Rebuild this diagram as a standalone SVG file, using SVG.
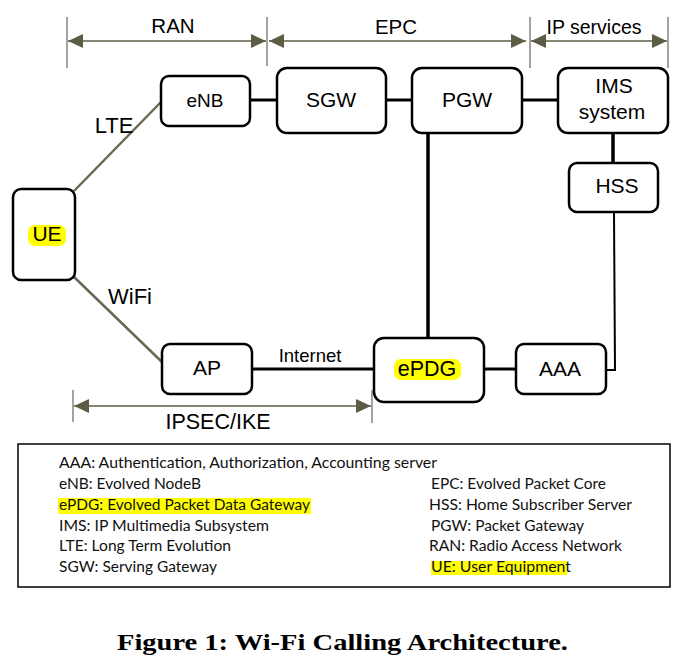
<svg xmlns="http://www.w3.org/2000/svg" width="682" height="663" viewBox="0 0 682 663">
<style>
.box{fill:#fff;stroke:#000;stroke-width:2.5}
.lbl{font-family:"Liberation Sans",Arial,sans-serif;font-size:21px;fill:#000;text-anchor:middle}
.dim{font-family:"Liberation Sans",Arial,sans-serif;font-size:20.5px;fill:#000;text-anchor:middle}
.tick{stroke:#a3a3a3;stroke-width:2}
.darr{stroke:#5f5c46;stroke-width:1.5;fill:none}
.conn{stroke:#000;stroke-width:3;fill:none}
.thin{stroke:#000;stroke-width:2;fill:none}
.radio{stroke:#6b6854;stroke-width:2.5;fill:none}
.hl{fill:#ffff00}
.leg{font-family:Lato,"Liberation Sans",sans-serif;font-size:15.5px;fill:#111}
</style>
<defs>
<marker id="ah" viewBox="0 0 15 14" refX="15" refY="7" markerWidth="15" markerHeight="14" markerUnits="userSpaceOnUse" orient="auto-start-reverse">
<path d="M0,0 L15,7 L0,14 z" fill="#5f5c46"/>
</marker>
</defs>
<rect width="682" height="663" fill="#fff"/>

<g id="dimensions">
<line class="tick" x1="67" y1="17" x2="67" y2="68"/>
<line class="tick" x1="267" y1="17" x2="267" y2="66"/>
<line class="tick" x1="530" y1="17" x2="530" y2="68"/>
<line class="tick" x1="668" y1="17" x2="668" y2="68"/>
<line class="darr" x1="68" y1="41" x2="266" y2="41" marker-start="url(#ah)" marker-end="url(#ah)"/>
<line class="darr" x1="269" y1="41" x2="526" y2="41" marker-start="url(#ah)" marker-end="url(#ah)"/>
<line class="darr" x1="531" y1="41" x2="667" y2="41" marker-start="url(#ah)" marker-end="url(#ah)"/>
<text class="dim" x="173" y="33">RAN</text>
<text class="dim" x="396" y="34">EPC</text>
<text class="dim" x="594" y="34" style="font-size:19.5px">IP services</text>
<line class="tick" x1="73" y1="390" x2="73" y2="422"/>
<line class="tick" x1="372" y1="390" x2="372" y2="423"/>
<line class="darr" x1="74" y1="406" x2="371" y2="406" marker-start="url(#ah)" marker-end="url(#ah)"/>
<text class="lbl" x="218" y="429" style="font-size:21.5px">IPSEC/IKE</text>
</g>

<g id="connectors">
<line class="radio" x1="74" y1="191" x2="161" y2="102"/>
<line class="radio" x1="74" y1="277" x2="162" y2="362"/>
<line class="conn" x1="250" y1="100" x2="277" y2="100"/>
<line class="conn" x1="386" y1="100" x2="412" y2="100"/>
<line class="conn" x1="522" y1="100" x2="558" y2="100"/>
<line class="conn" x1="428" y1="133" x2="428" y2="338" style="stroke-width:3.5"/>
<line class="conn" x1="613" y1="133" x2="613" y2="163" style="stroke-width:3.5"/>
<polyline class="thin" points="614,212 615,370 606,370"/>
<line class="conn" x1="252" y1="369" x2="374" y2="369"/>
<line class="conn" x1="484" y1="369" x2="516" y2="369"/>
<text class="lbl" x="114" y="133" style="font-size:22px">LTE</text>
<text class="lbl" x="130" y="304" style="font-size:22px">WiFi</text>
<text class="lbl" x="310" y="362" style="font-size:18.5px">Internet</text>
</g>

<g id="UE">
<rect class="box" x="13" y="189" width="62" height="91" rx="8"/>
<rect class="hl" x="28" y="225" width="38" height="21" rx="7"/>
<text class="lbl" x="47" y="241">UE</text>
</g>
<g id="eNB">
<rect class="box" x="161" y="76" width="89" height="50" rx="8"/>
<text class="lbl" x="205" y="107" style="font-size:19px">eNB</text>
</g>
<g id="SGW">
<rect class="box" x="277" y="68" width="109" height="65" rx="10"/>
<text class="lbl" x="331" y="107">SGW</text>
</g>
<g id="PGW">
<rect class="box" x="412" y="68" width="110" height="65" rx="10"/>
<text class="lbl" x="467" y="107">PGW</text>
</g>
<g id="IMS">
<rect class="box" x="558" y="68" width="110" height="65" rx="10"/>
<text class="lbl" x="614" y="93">IMS</text>
<text class="lbl" x="612" y="119">system</text>
</g>
<g id="HSS">
<rect class="box" x="569" y="163" width="89" height="49" rx="8"/>
<text class="lbl" x="617" y="193">HSS</text>
</g>
<g id="AP">
<rect class="box" x="162" y="344" width="90" height="50" rx="8"/>
<text class="lbl" x="207" y="375">AP</text>
</g>
<g id="ePDG">
<rect class="box" x="374" y="338" width="110" height="64" rx="10"/>
<rect class="hl" x="394" y="359" width="67" height="21" rx="7"/>
<text class="lbl" x="427" y="376" style="font-size:21.5px">ePDG</text>
</g>
<g id="AAA">
<rect class="box" x="516" y="344" width="90" height="50" rx="8"/>
<text class="lbl" x="560" y="376">AAA</text>
</g>

<g id="legend">
<rect x="18" y="444" width="652" height="143" fill="#fff" stroke="#000" stroke-width="1.5"/>
<rect class="hl" x="58" y="498" width="253" height="16"/>
<rect class="hl" x="431" y="561" width="136" height="14"/>
<text class="leg" x="59" y="468" textLength="378" lengthAdjust="spacingAndGlyphs">AAA: Authentication, Authorization, Accounting server</text>
<text class="leg" x="59" y="489" textLength="142" lengthAdjust="spacingAndGlyphs">eNB: Evolved NodeB</text>
<text class="leg" x="59" y="510" textLength="251" lengthAdjust="spacingAndGlyphs">ePDG: Evolved Packet Data Gateway</text>
<text class="leg" x="59" y="531" textLength="210" lengthAdjust="spacingAndGlyphs">IMS: IP Multimedia Subsystem</text>
<text class="leg" x="59" y="551" textLength="172" lengthAdjust="spacingAndGlyphs">LTE: Long Term Evolution</text>
<text class="leg" x="59" y="572" textLength="158" lengthAdjust="spacingAndGlyphs">SGW: Serving Gateway</text>
<text class="leg" x="431" y="489" textLength="175" lengthAdjust="spacingAndGlyphs">EPC: Evolved Packet Core</text>
<text class="leg" x="429" y="510" textLength="203" lengthAdjust="spacingAndGlyphs">HSS: Home Subscriber Server</text>
<text class="leg" x="431" y="531" textLength="153" lengthAdjust="spacingAndGlyphs">PGW: Packet Gateway</text>
<text class="leg" x="429" y="551" textLength="193" lengthAdjust="spacingAndGlyphs">RAN: Radio Access Network</text>
<text class="leg" x="431" y="572" textLength="140" lengthAdjust="spacingAndGlyphs">UE: User Equipment</text>
</g>

<text x="117" y="650" font-family="'Liberation Serif','Times New Roman',serif" font-weight="bold" font-size="24" fill="#000" textLength="451" lengthAdjust="spacingAndGlyphs">Figure 1: Wi-Fi Calling Architecture.</text>
</svg>
